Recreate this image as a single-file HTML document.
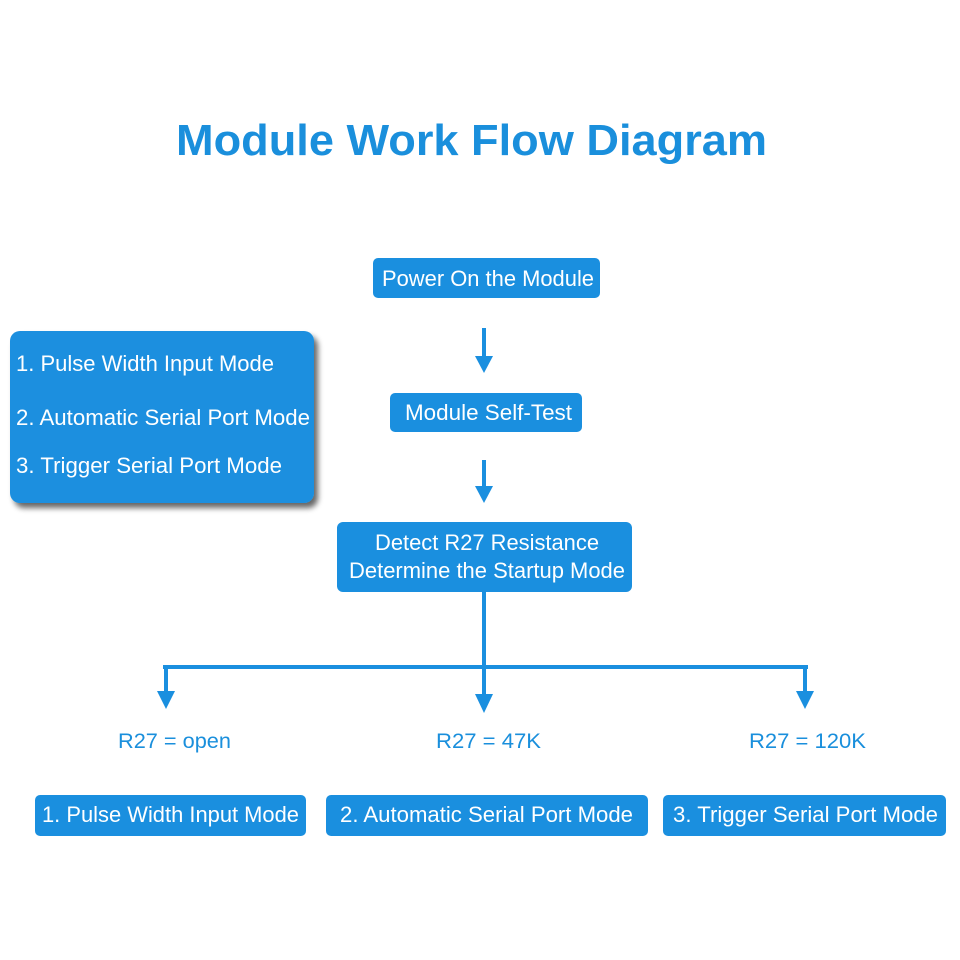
<!DOCTYPE html>
<html><head><meta charset="utf-8"><style>
html,body{margin:0;padding:0;background:#fff;}
svg{display:block;}
text{font-family:"Liberation Sans",Arial,sans-serif;}
</style></head><body>
<svg width="960" height="960" viewBox="0 0 960 960" xmlns="http://www.w3.org/2000/svg">
<defs>
<filter id="sh" x="-10%" y="-10%" width="130%" height="130%">
<feGaussianBlur in="SourceAlpha" stdDeviation="3"/>
<feOffset dx="4" dy="5" result="o"/>
<feComponentTransfer><feFuncA type="linear" slope="0.6"/></feComponentTransfer>
<feMerge><feMergeNode/><feMergeNode in="SourceGraphic"/></feMerge>
</filter>
</defs>
<text x="176" y="155" font-size="44" font-weight="bold" fill="#1a8fdc" textLength="591" lengthAdjust="spacingAndGlyphs">Module Work Flow Diagram</text>

<g fill="#1a8fdf">
<rect x="10" y="331" width="304" height="172" rx="10" filter="url(#sh)"/>
<rect x="373" y="258" width="227" height="40" rx="5"/>
<rect x="390" y="393" width="192" height="39" rx="5"/>
<rect x="337" y="522" width="295" height="70" rx="6"/>
<rect x="35" y="795" width="271" height="41" rx="5"/>
<rect x="326" y="795" width="322" height="41" rx="5"/>
<rect x="663" y="795" width="283" height="41" rx="5"/>
</g>

<g fill="#1a8fdf" stroke="none">
<rect x="482" y="328" width="4" height="30"/><polygon points="475,356 493,356 484,373"/>
<rect x="482" y="460" width="4" height="28"/><polygon points="475,486 493,486 484,503"/>
<rect x="482" y="592" width="4" height="104"/><polygon points="475,694 493,694 484,713"/>
<rect x="163" y="665" width="645" height="4"/>
<rect x="164" y="665" width="4" height="28"/><polygon points="157,691 175,691 166,709"/>
<rect x="803" y="665" width="4" height="28"/><polygon points="796,691 814,691 805,709"/>
</g>

<g fill="#fff" font-size="22">
<text x="16" y="371" textLength="258" lengthAdjust="spacingAndGlyphs">1. Pulse Width Input Mode</text>
<text x="16" y="425" textLength="294" lengthAdjust="spacingAndGlyphs">2. Automatic Serial Port Mode</text>
<text x="16" y="473" textLength="266" lengthAdjust="spacingAndGlyphs">3. Trigger Serial Port Mode</text>
<text x="382" y="286" textLength="212" lengthAdjust="spacingAndGlyphs">Power On the Module</text>
<text x="405" y="420" textLength="167" lengthAdjust="spacingAndGlyphs">Module Self-Test</text>
<text x="375" y="550" textLength="224" lengthAdjust="spacingAndGlyphs">Detect R27 Resistance</text>
<text x="349" y="578" textLength="276" lengthAdjust="spacingAndGlyphs">Determine the Startup Mode</text>
<text x="42" y="822" textLength="257" lengthAdjust="spacingAndGlyphs">1. Pulse Width Input Mode</text>
<text x="340" y="822" textLength="293" lengthAdjust="spacingAndGlyphs">2. Automatic Serial Port Mode</text>
<text x="673" y="822" textLength="265" lengthAdjust="spacingAndGlyphs">3. Trigger Serial Port Mode</text>
</g>
<g fill="#1a8fdc" font-size="21">
<text x="118" y="748" textLength="113" lengthAdjust="spacingAndGlyphs">R27 = open</text>
<text x="436" y="748" textLength="105" lengthAdjust="spacingAndGlyphs">R27 = 47K</text>
<text x="749" y="748" textLength="117" lengthAdjust="spacingAndGlyphs">R27 = 120K</text>
</g>
</svg>
</body></html>
